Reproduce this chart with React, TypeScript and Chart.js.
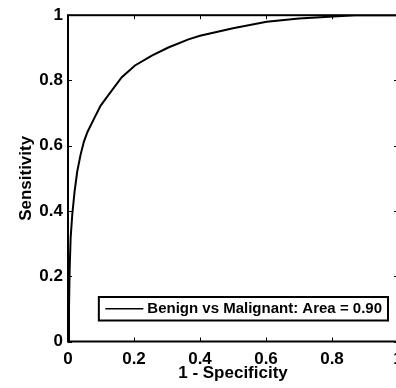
import React, { useEffect, useRef } from "react";
import { Chart, registerables } from "chart.js";

Chart.register(...registerables);

const fpr = [0, 0.003, 0.005, 0.008, 0.013, 0.02, 0.028, 0.038, 0.048, 0.059, 0.079, 0.099, 0.129, 0.163, 0.203, 0.254, 0.304, 0.365, 0.4, 0.5, 0.602, 0.7, 0.804, 0.87, 0.95, 1];
const tpr = [0, 0.1, 0.22, 0.318, 0.39, 0.46, 0.521, 0.572, 0.612, 0.642, 0.683, 0.723, 0.764, 0.81, 0.846, 0.876, 0.901, 0.926, 0.937, 0.96, 0.98, 0.99, 0.996, 1, 1, 1];
const seriesLabel = "Benign vs Malignant: Area = 0.90";
const xTitle = "1 - Specificity";
const yTitle = "Sensitivity";

const FONT = "'Liberation Sans', Arial, Helvetica, sans-serif";

const fmt = (v: any) => String(Number(Number(v).toFixed(1)));

const framePlugin = {
  id: "frame",
  afterDraw(chart: any) {
    const { ctx, chartArea: a, scales } = chart;
    ctx.save();
    ctx.strokeStyle = "#000";
    ctx.lineWidth = 1;
    const L = 4;
    scales.x.ticks.forEach((t: any) => {
      const px = Math.round(scales.x.getPixelForValue(t.value)) + 0.5;
      ctx.beginPath();
      ctx.moveTo(px, a.bottom);
      ctx.lineTo(px, a.bottom - L);
      ctx.moveTo(px, a.top);
      ctx.lineTo(px, a.top + L);
      ctx.stroke();
    });
    scales.y.ticks.forEach((t: any) => {
      const py = Math.round(scales.y.getPixelForValue(t.value)) + 0.5;
      ctx.beginPath();
      ctx.moveTo(a.left, py);
      ctx.lineTo(a.left + L, py);
      ctx.moveTo(a.right, py);
      ctx.lineTo(a.right - L, py);
      ctx.stroke();
    });
    ctx.lineWidth = 2;
    ctx.strokeRect(a.left, a.top, a.right - a.left, a.bottom - a.top);
    const ds = chart.data.datasets[0];
    ctx.font = "bold 15px " + FONT;
    const tw = ctx.measureText(ds.label).width;
    const right = a.right - 10;
    const bottom = a.bottom - 21;
    const h = 23.5;
    const w = 6.5 + 38 + 4 + tw + 6;
    const left = right - w;
    const top = bottom - h;
    ctx.fillStyle = "#fff";
    ctx.fillRect(left, top, w, h);
    ctx.lineWidth = 2;
    ctx.strokeRect(left, top, w, h);
    const cy = top + h / 2;
    ctx.lineWidth = 1.5;
    ctx.beginPath();
    ctx.moveTo(left + 6.5, cy);
    ctx.lineTo(left + 44.5, cy);
    ctx.stroke();
    ctx.fillStyle = "#000";
    ctx.textBaseline = "middle";
    ctx.textAlign = "left";
    ctx.fillText(ds.label, left + 48.5, cy + 0.5);
    ctx.restore();
  },
};

export default function App() {
  const ref = useRef<HTMLCanvasElement>(null);
  useEffect(() => {
    const canvas = ref.current!;
    const chart = new Chart(canvas, {
      type: "line",
      data: {
        datasets: [
          {
            label: seriesLabel,
            data: fpr.map((x, i) => ({ x, y: tpr[i] })),
            borderColor: "#000",
            borderWidth: 2,
            pointRadius: 0,
            tension: 0,
            fill: false,
          },
        ],
      },
      options: {
        responsive: false,
        animation: false,
        layout: { padding: { left: 0, top: 12, right: 22, bottom: 0 } },
        plugins: { legend: { display: false }, tooltip: { enabled: false } },
        scales: {
          x: {
            type: "linear",
            min: 0,
            max: 1,
            grid: { display: false, drawTicks: false },
            border: { display: false },
            ticks: {
              stepSize: 0.2,
              padding: 8,
              color: "#000",
              font: { family: FONT, size: 17, weight: "bold" },
              maxRotation: 0,
              callback: fmt,
            },
            title: {
              display: true,
              text: xTitle,
              color: "#000",
              font: { family: FONT, size: 17, weight: "bold" },
              padding: { top: 0, bottom: 4 },
            },
            afterFit: (s: any) => {
              s.height = 46.5;
            },
          },
          y: {
            type: "linear",
            min: 0,
            max: 1,
            grid: { display: false, drawTicks: false },
            border: { display: false },
            ticks: {
              stepSize: 0.2,
              padding: 5,
              color: "#000",
              font: { family: FONT, size: 17, weight: "bold" },
              callback: fmt,
            },
            title: {
              display: true,
              text: yTitle,
              color: "#000",
              font: { family: FONT, size: 17, weight: "bold" },
              padding: { top: 16, bottom: 0 },
            },
            afterFit: (s: any) => {
              s.width = 68;
            },
          },
        },
      },
      plugins: [framePlugin],
    });
    return () => chart.destroy();
  }, []);
  return (
    <div
      style={{
        position: "absolute",
        left: 0,
        top: 0,
        width: 396,
        height: 388,
        overflow: "hidden",
        background: "#fff",
      }}
    >
      <canvas ref={ref} width={420} height={388} style={{ display: "block" }} />
    </div>
  );
}
